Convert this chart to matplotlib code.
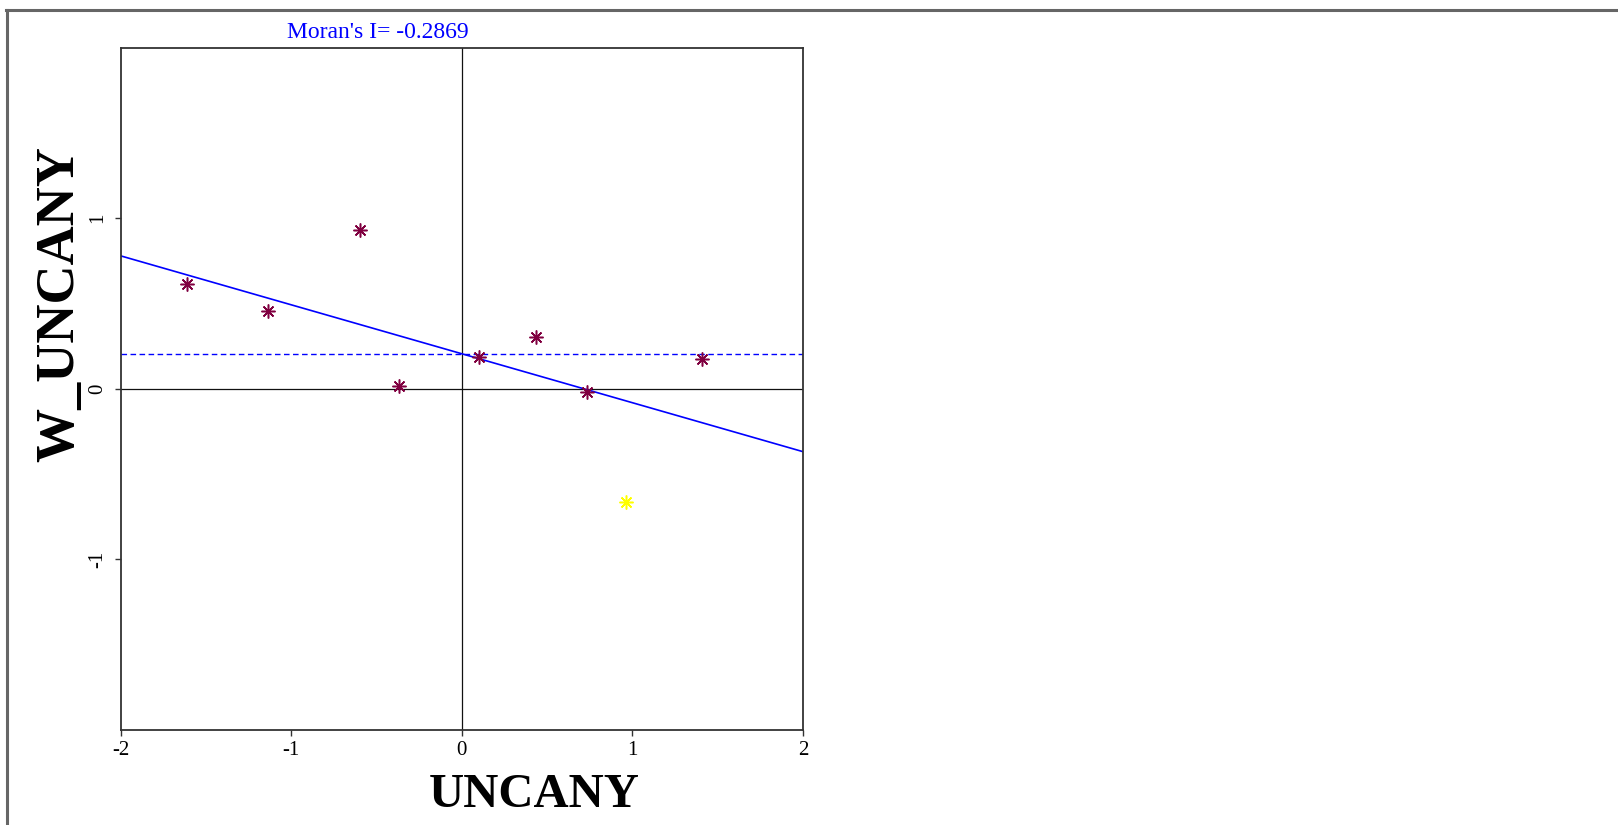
import matplotlib
matplotlib.use("Agg")
import matplotlib.pyplot as plt
from matplotlib.lines import Line2D
import numpy as np

# Standardised variable and its spatial lag
uncany = [-1.609, -1.136, -0.600, -0.368, 0.100, 0.436, 0.731, 0.962, 1.409]
w_uncany = [0.616, 0.455, 0.929, 0.018, 0.188, 0.302, -0.019, -0.665, 0.176]
point_colors = ["#800040"] * 7 + ["#ffff00"] + ["#800040"]

morans_i = -0.2869
intercept = 0.205
mean_lag = 0.206

x_ticks = [-2, -1, 0, 1, 2]
y_ticks = [-1, 0, 1]

W, H = 1618, 825
fig = plt.figure(figsize=(W / 100, H / 100), dpi=100)
plt.rcParams["font.family"] = ["Liberation Serif", "DejaVu Serif"]

def fx(px):
    return px / W

def fy(py):
    return 1 - py / H

ax = fig.add_axes([fx(120.7), fy(730), (803 - 120.7) / W, (730 - 47.5) / H])
ax.set_xlim(-2, 2)
ax.set_ylim(-2, 2)

# quadrant axes
ax.axhline(0, color="#111111", lw=0.9, zorder=1)
ax.axvline(0, color="#111111", lw=0.9, zorder=1)

# regression line and mean of the lag
xs = np.array([-2.0, 2.0])
ax.plot(xs, intercept + morans_i * xs, color="#0000ff", lw=1.2, zorder=2)
ax.axhline(mean_lag, color="#0000ff", lw=1.0, ls=(0, (4, 2.5)), zorder=2)

for x, y, c in zip(uncany, w_uncany, point_colors):
    ax.plot([x], [y], ls="none", marker=(8, 2, 0), markersize=10,
            markeredgecolor=c, markeredgewidth=1.1, zorder=3)

ax.set_xticks(x_ticks)
ax.set_xticklabels([str(t) for t in x_ticks])
ax.set_yticks(y_ticks)
ax.set_yticklabels([str(t) for t in y_ticks])
ax.tick_params(axis="both", direction="out", length=4, width=1.0,
               color="#333333", labelsize=15, labelcolor="black")
ax.tick_params(axis="x", pad=4)
ax.tick_params(axis="y", pad=6)
for lab in ax.get_yticklabels():
    lab.set_rotation(90)
    lab.set_va("center")
for s in ax.spines.values():
    s.set_color("#333333")
    s.set_linewidth(1.3)

fig.text(fx(377.5), fy(37.7), "Moran's I= -0.2869", color="#0000ff",
         fontsize=17, ha="center", va="baseline")
fig.text(fx(534), fy(806.7), "UNCANY", fontsize=35, fontweight="bold",
         ha="center", va="baseline")
fig.text(fx(73), fy(304), "W_UNCANY", fontsize=39, fontweight="bold",
         rotation=90, rotation_mode="anchor", ha="center", va="baseline")

# page frame
fig.add_artist(Line2D([fx(7.5), fx(7.5)], [0, fy(9.5)], color="#666666",
                      lw=2.2, transform=fig.transFigure))
fig.add_artist(Line2D([fx(6), 1], [fy(9.5), fy(9.5)], color="#666666",
                      lw=2.2, transform=fig.transFigure))

fig.savefig("out.png", dpi=100)
